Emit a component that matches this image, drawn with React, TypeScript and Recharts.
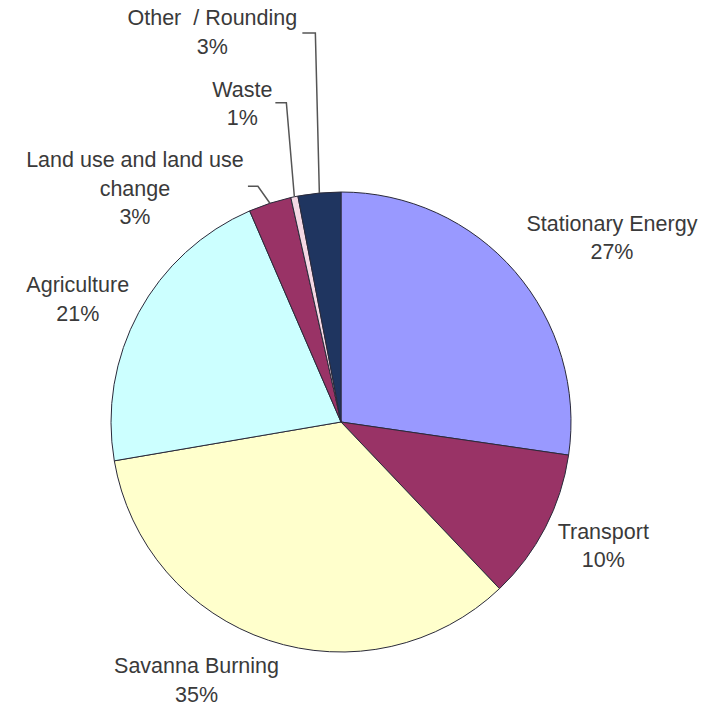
import React from 'react';
import { PieChart, Pie, Cell } from 'recharts';

const categories = [
  'Stationary Energy',
  'Transport',
  'Savanna Burning',
  'Agriculture',
  'Land use and land use change',
  'Waste',
  'Other  / Rounding',
];
const shares = [27.3, 10.6, 34.4, 21.2, 3.0, 0.5, 3.0];
const shownPercent = ['27%', '10%', '35%', '21%', '3%', '1%', '3%'];
const labelLines = [
  ['Stationary Energy'],
  ['Transport'],
  ['Savanna Burning'],
  ['Agriculture'],
  ['Land use and land use', 'change'],
  ['Waste'],
  ['Other  / Rounding'],
];
const colors = ['#9999ff', '#993366', '#ffffcc', '#ccffff', '#993366', '#f4d8e4', '#1f3560'];

const data = categories.map((name, i) => ({ name, value: shares[i] }));

// label placement relative to the slice's outer midpoint
const labelOffset = [
  { dx: 97, dy: -41 },
  { dx: 58, dy: 11 },
  { dx: -72, dy: 33 },
  { dx: -61, dy: -20 },
  { dx: -135, dy: -36, leader: [[-12, -17], [-22, -17]] },
  { dx: -52, dy: -100, leader: [[-8, -94], [-19, -94]] },
  { dx: -107, dy: -168, leader: [[-4, -160], [-17, -160]] },
];

const RAD = Math.PI / 180;
const LINE_H = 28.5;

const renderLabel = (props: any) => {
  const { cx, cy, midAngle, outerRadius, index } = props;
  const ox = cx + outerRadius * Math.cos(midAngle * RAD);
  const oy = cy - outerRadius * Math.sin(midAngle * RAD);
  const off = labelOffset[index];
  const lines = [...labelLines[index], shownPercent[index]];
  const tx = ox + off.dx;
  const ty = oy + off.dy;
  return (
    <g key={`lbl-${index}`}>
      {off.leader && (
        <polyline
          points={[[0, 0], ...off.leader].map(([x, y]) => `${ox + x},${oy + y}`).join(' ')}
          fill="none"
          stroke="#555"
          strokeWidth={1.5}
        />
      )}
      <text
        x={tx}
        y={ty}
        textAnchor="middle"
        fill="#3a3a3a"
        fontSize={21.5}
        fontFamily="'Liberation Sans', Arial, sans-serif"
        style={{ whiteSpace: 'pre' }}
      >
        {lines.map((l, i) => (
          <tspan key={i} x={tx} y={ty + i * LINE_H}>
            {l}
          </tspan>
        ))}
      </text>
    </g>
  );
};

export default function App() {
  return (
    <div style={{ position: 'absolute', left: 0, top: 0, background: '#fff' }}>
      <PieChart width={712} height={708} margin={{ top: 0, right: 0, bottom: 0, left: 0 }}>
        <Pie
          data={data}
          dataKey="value"
          nameKey="name"
          cx={341}
          cy={422}
          outerRadius={230}
          startAngle={90}
          endAngle={-270}
          stroke="#2a2a3a"
          strokeWidth={1}
          label={renderLabel}
          labelLine={false}
          isAnimationActive={false}
        >
          {data.map((d, i) => (
            <Cell key={d.name} fill={colors[i]} />
          ))}
        </Pie>
      </PieChart>
    </div>
  );
}
